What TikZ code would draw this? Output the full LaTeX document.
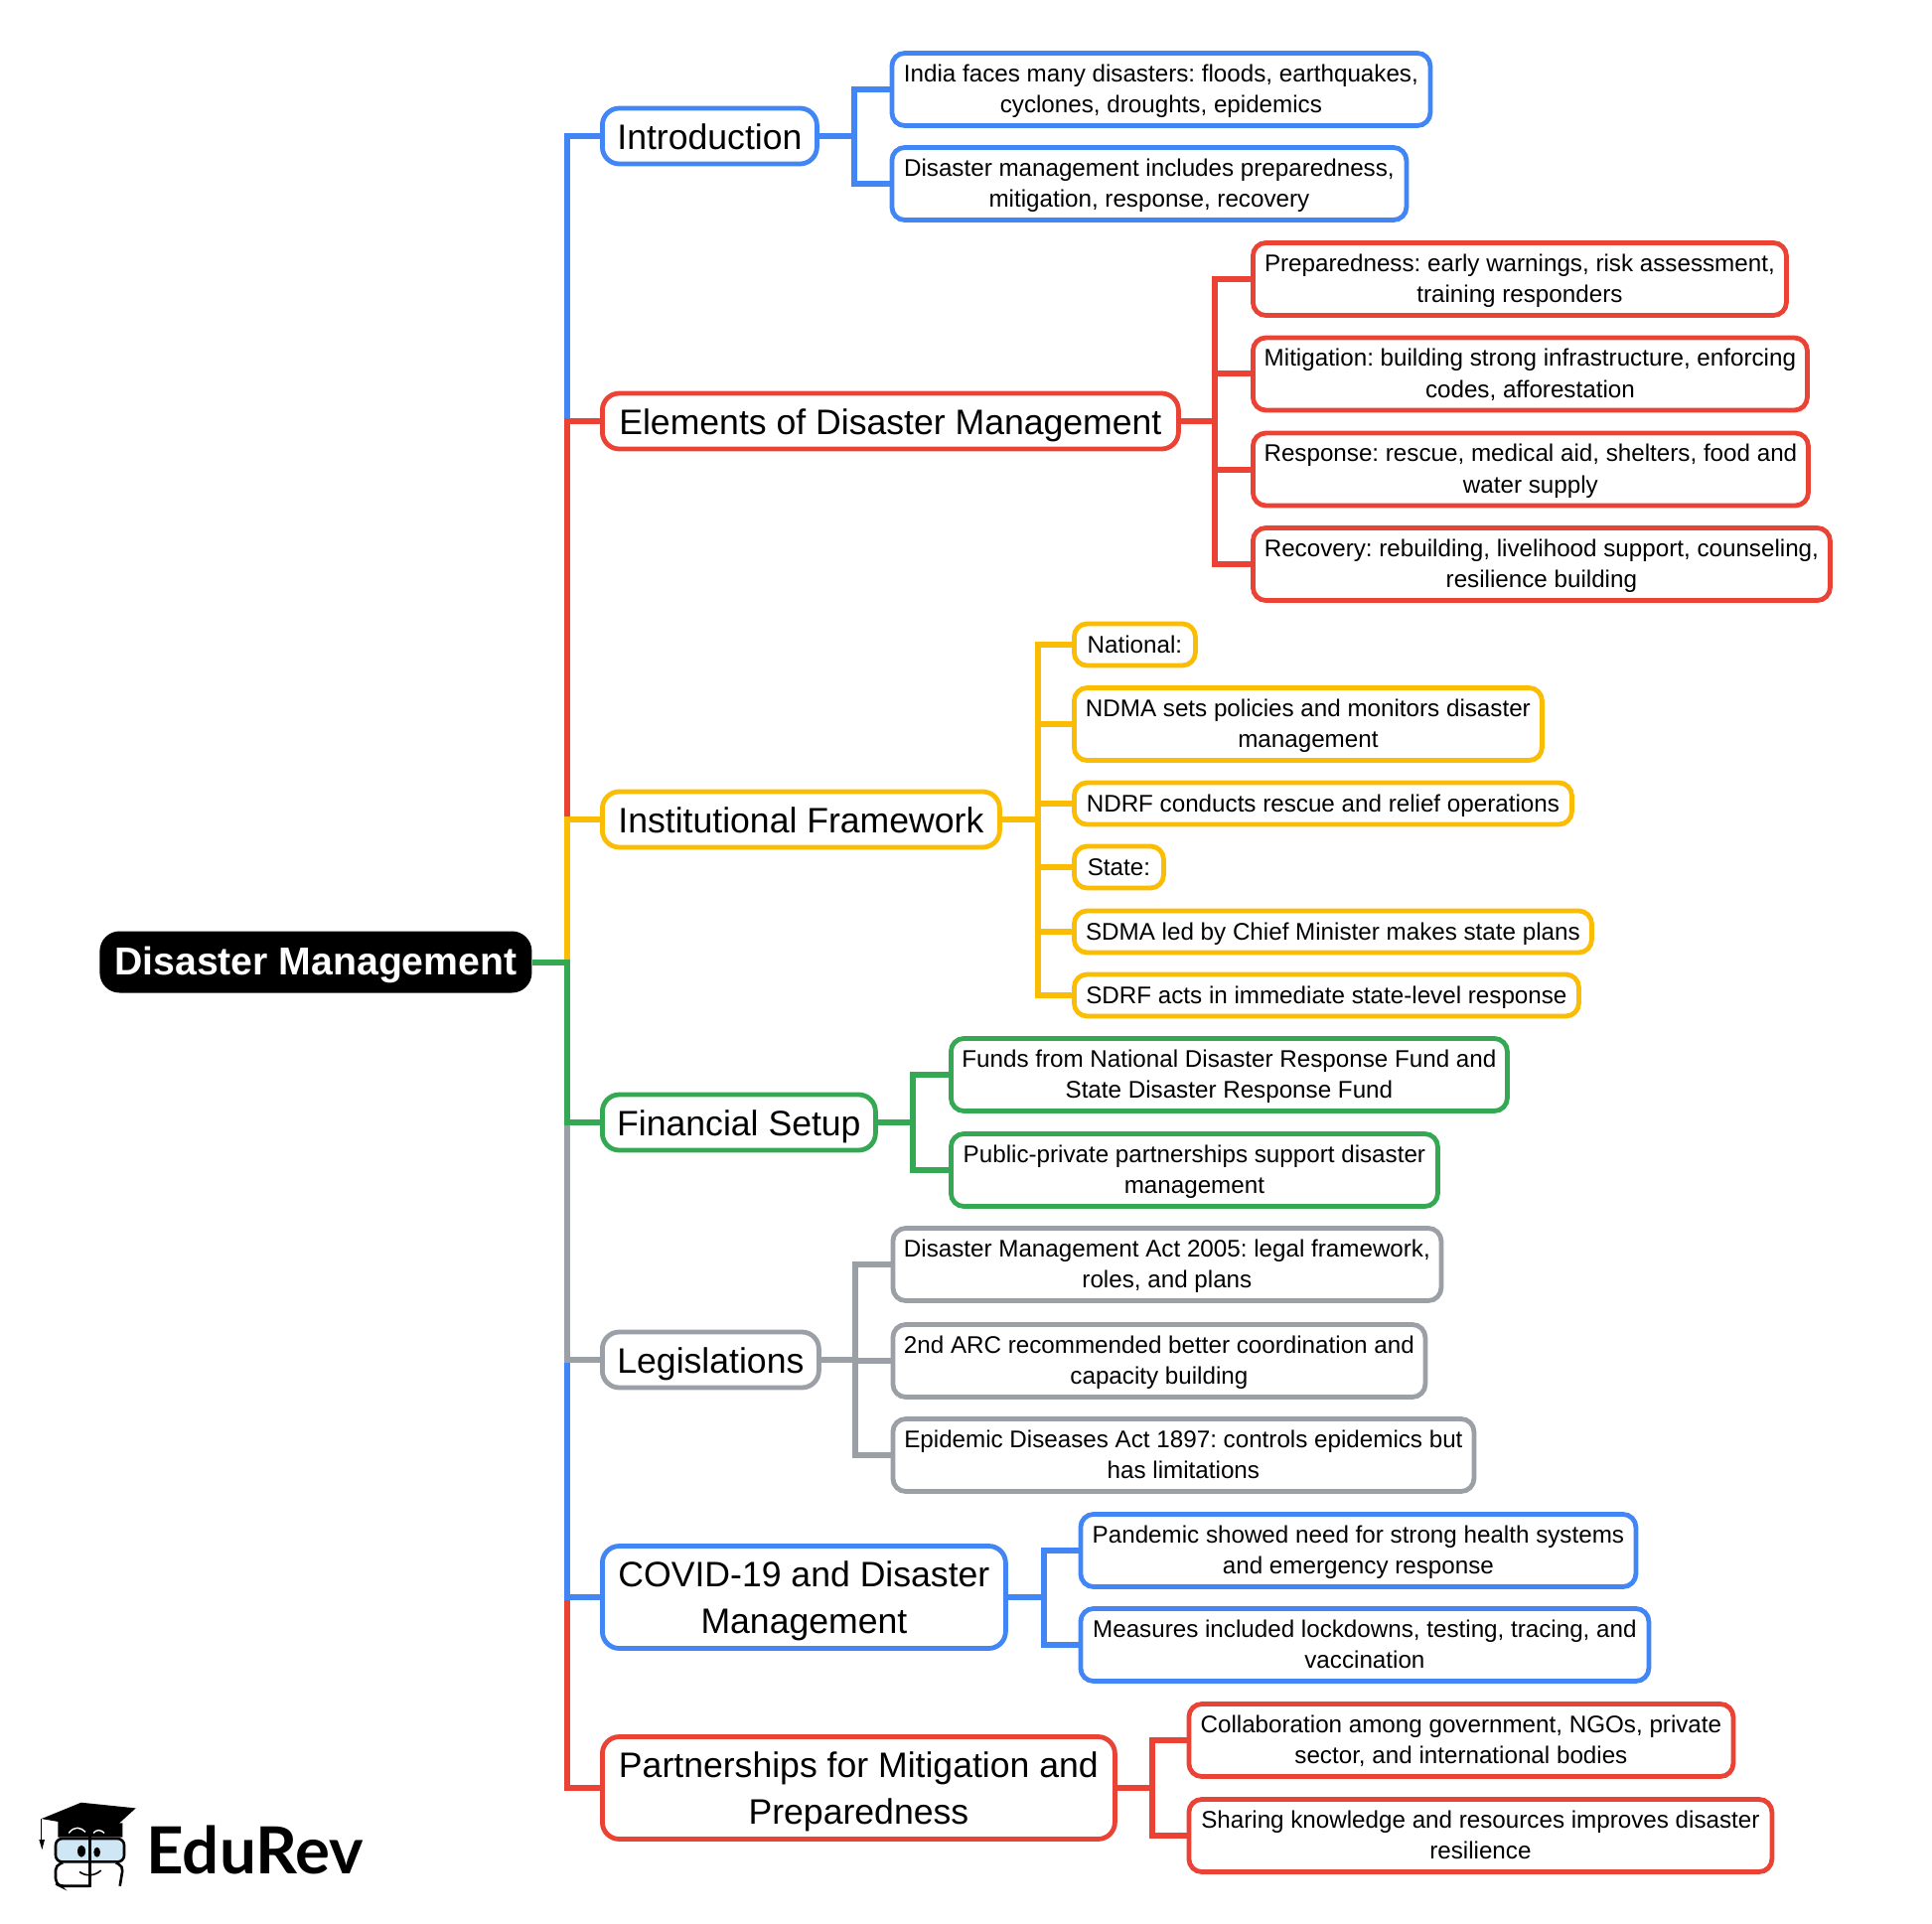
\documentclass[tikz,border=0pt]{standalone}
\usepackage{fontspec}
\setmainfont{Liberation Sans}
\newfontfamily\logofont{Lato}
\definecolor{mapblue}{HTML}{4285F4}
\definecolor{mapred}{HTML}{EA4335}
\definecolor{mapyellow}{HTML}{FBBC04}
\definecolor{mapgreen}{HTML}{34A853}
\definecolor{mapgray}{HTML}{9AA0A6}
\definecolor{lensblue}{HTML}{CFE6F5}
\newcommand\topstrut[1]{\rule{0pt}{#1}}
\newcommand\botstrut[1]{\rule[-#1]{0pt}{#1}}
\begin{document}
\frenchspacing
\begin{tikzpicture}[x=0.5pt, y=-0.5pt,
  root/.style={fill=black, text=white, rounded corners=10pt, minimum width=217.5pt, minimum height=31pt, anchor=west, inner sep=0pt, align=center, font=\fontsize{19.6}{24}\selectfont\bfseries, execute at begin node=\topstrut{18.65pt}, execute at end node=\botstrut{5.35pt}},
  branch/.style={draw=#1, line width=2.4pt, rounded corners=8.5pt, minimum height=28pt, anchor=west, inner sep=0pt, align=center, font=\fontsize{17.8}{23.6}\selectfont, execute at begin node=\topstrut{19.1pt}, execute at end node=\botstrut{6pt}},
  twoline/.style={minimum height=51.5pt, execute at begin node=\topstrut{42.8pt}},
  leafbase/.style={draw=#1, line width=2.4pt, rounded corners=6.5pt, anchor=west, inner sep=0pt, align=center, font=\fontsize{12.1}{15.75}\selectfont},
  leaf/.style={leafbase=#1, minimum height=36.5pt, execute at begin node=\topstrut{26.7pt}, execute at end node=\botstrut{3pt}},
  shortleaf/.style={leafbase=#1, minimum height=21pt, execute at begin node=\topstrut{12pt}, execute at end node=\botstrut{4pt}},
  link/.style={draw=#1, line width=3pt}]
  \useasboundingbox (0,0) rectangle (1945,1937);

  % Root
  \node[root] (R) at (100,968.5) {Disaster Management};

  % Branches
  \node[branch=mapblue, minimum width=108pt] (A) at (604,137) {Introduction};
  \node[branch=mapred, minimum width=290pt] (B) at (604,424) {Elements of Disaster Management};
  \node[branch=mapyellow, minimum width=200pt] (C) at (604,825) {Institutional Framework};
  \node[branch=mapgreen, minimum width=137.5pt] (D) at (604,1130) {Financial Setup};
  \node[branch=mapgray, minimum width=109pt] (E) at (604,1369) {Legislations};
  \node[branch=mapblue, twoline, minimum width=203pt] (F) at (604,1608) {COVID-19 and Disaster\\Management};
  \node[branch=mapred, twoline, minimum width=258pt] (G) at (604,1800) {Partnerships for Mitigation and\\Preparedness};

  % Introduction leaves
  \node[leaf=mapblue, minimum width=271pt] (A1) at (895.5,90) {India faces many disasters: floods, earthquakes,\\cyclones, droughts, epidemics};
  \node[leaf=mapblue, minimum width=259pt] (A2) at (895.5,185) {Disaster management includes preparedness,\\mitigation, response, recovery};

  % Elements leaves
  \node[leaf=mapred, minimum width=268.5pt] (B1) at (1259,281) {Preparedness: early warnings, risk assessment,\\training responders};
  \node[leaf=mapred, minimum width=279pt] (B2) at (1259,376.5) {Mitigation: building strong infrastructure, enforcing\\codes, afforestation};
  \node[leaf=mapred, minimum width=279.5pt] (B3) at (1259,472.5) {Response: rescue, medical aid, shelters, food and\\water supply};
  \node[leaf=mapred, minimum width=290.5pt] (B4) at (1259,568) {Recovery: rebuilding, livelihood support, counseling,\\resilience building};

  % Institutional leaves
  \node[shortleaf=mapyellow, minimum width=61pt] (C1) at (1079,649) {National:};
  \node[leaf=mapyellow, minimum width=235.5pt] (C2) at (1079,729) {NDMA sets policies and monitors disaster\\management};
  \node[shortleaf=mapyellow, minimum width=250.5pt] (C3) at (1079,809) {NDRF conducts rescue and relief operations};
  \node[shortleaf=mapyellow, minimum width=45pt] (C4) at (1079,873) {State:};
  \node[shortleaf=mapyellow, minimum width=260.5pt] (C5) at (1079,938) {SDMA led by Chief Minister makes state plans};
  \node[shortleaf=mapyellow, minimum width=254pt] (C6) at (1079,1002) {SDRF acts in immediate state-level response};

  % Financial leaves
  \node[leaf=mapgreen, minimum width=280pt] (D1) at (955,1082) {Funds from National Disaster Response Fund and\\State Disaster Response Fund};
  \node[leaf=mapgreen, minimum width=245pt] (D2) at (955,1178) {Public-private partnerships support disaster\\management};

  % Legislation leaves
  \node[leaf=mapgray, minimum width=276pt] (E1) at (896.5,1273) {Disaster Management Act 2005: legal framework,\\roles, and plans};
  \node[leaf=mapgray, minimum width=268pt] (E2) at (896.5,1370) {2nd ARC recommended better coordination and\\capacity building};
  \node[leaf=mapgray, minimum width=292.5pt] (E3) at (896.5,1465) {Epidemic Diseases Act 1897: controls epidemics but\\has limitations};

  % COVID leaves
  \node[leaf=mapblue, minimum width=279.5pt] (F1) at (1085.5,1561) {Pandemic showed need for strong health systems\\and emergency response};
  \node[leaf=mapblue, minimum width=286pt] (F2) at (1085.5,1656) {Measures included lockdowns, testing, tracing, and\\vaccination};

  % Partnership leaves
  \node[leaf=mapred, minimum width=274pt] (G1) at (1194.5,1752) {Collaboration among government, NGOs, private\\sector, and international bodies};
  \node[leaf=mapred, minimum width=293.5pt] (G2) at (1194.5,1848) {Sharing knowledge and resources improves disaster\\resilience};

  % Junctions
  \coordinate (RJ) at (570.5,968.5);
  \coordinate (AJ) at (860,137);
  \coordinate (BJ) at (1223,424);
  \coordinate (CJ) at (1045,825);
  \coordinate (DJ) at (919,1130);
  \coordinate (EJ) at (861,1369);
  \coordinate (FJ) at (1051,1608);
  \coordinate (GJ) at (1160,1800);

  % Trunk, outer branches first
  \draw[link=mapblue] (R.east) -- (RJ) |- (A.west);
  \draw[link=mapred] (R.east) -- (RJ) |- (B.west);
  \draw[link=mapred] (R.east) -- (RJ) |- (G.west);
  \draw[link=mapblue] (R.east) -- (RJ) |- (F.west);
  \draw[link=mapgray] (R.east) -- (RJ) |- (E.west);
  \draw[link=mapyellow] (R.east) -- (RJ) |- (C.west);
  \draw[link=mapgreen] (R.east) -- (RJ) |- (D.west);

  % Leaf connectors
  \foreach \k in {1,2} \draw[link=mapblue] (A.east) -- (AJ) |- (A\k.west);
  \foreach \k in {1,2,3,4} \draw[link=mapred] (B.east) -- (BJ) |- (B\k.west);
  \foreach \k in {1,...,6} \draw[link=mapyellow] (C.east) -- (CJ) |- (C\k.west);
  \foreach \k in {1,2} \draw[link=mapgreen] (D.east) -- (DJ) |- (D\k.west);
  \foreach \k in {1,2,3} \draw[link=mapgray] (E.east) -- (EJ) |- (E\k.west);
  \foreach \k in {1,2} \draw[link=mapblue] (F.east) -- (FJ) |- (F\k.west);
  \foreach \k in {1,2} \draw[link=mapred] (G.east) -- (GJ) |- (G\k.west);

  % Logo
  \node[anchor=base west, inner sep=0pt, font=\fontsize{32.7}{33}\selectfont\logofont\bfseries] (logo) at (147,1886) {EduRev};
  \begin{scope}[x=0.1667pt, y=-0.1667pt, shift={(0,5340)}]
    \fill (175,160) -- (175,208) -- (370,208) -- (370,165) -- cycle;
    \draw[line width=1.3pt, fill=lensblue, rounded corners=3.3pt] (168,212) rectangle (375,282);
    \draw[line width=1.3pt, rounded corners=2.5pt] (190,285) -- (168,292) -- (168,348) -- (182,355) -- (272,355);
    \draw[line width=1.3pt, rounded corners=2.5pt] (350,285) -- (372,295) -- (362,355);
    \draw[line width=1.3pt] (272,205) -- (272,358);
    \fill (125,152) -- (245,103) -- (410,120) -- (335,188) -- cycle;
    \draw[line width=0.7pt] (125,152) -- (125,215);
    \fill (118,215) -- (135,215) -- (127,245) -- cycle;
    \draw[white, line width=0.7pt] (208,195) .. controls (225,172) and (245,178) .. (258,192);
    \draw[white, line width=0.7pt] (282,195) .. controls (292,183) and (305,185) .. (315,195);
    \fill (246,250) ellipse [x radius=12, y radius=18];
    \fill (293,253) ellipse [x radius=10, y radius=15];
    \draw[line width=0.8pt] (240,312) .. controls (258,326) and (285,326) .. (305,308);
  \end{scope}
\end{tikzpicture}
\end{document}
